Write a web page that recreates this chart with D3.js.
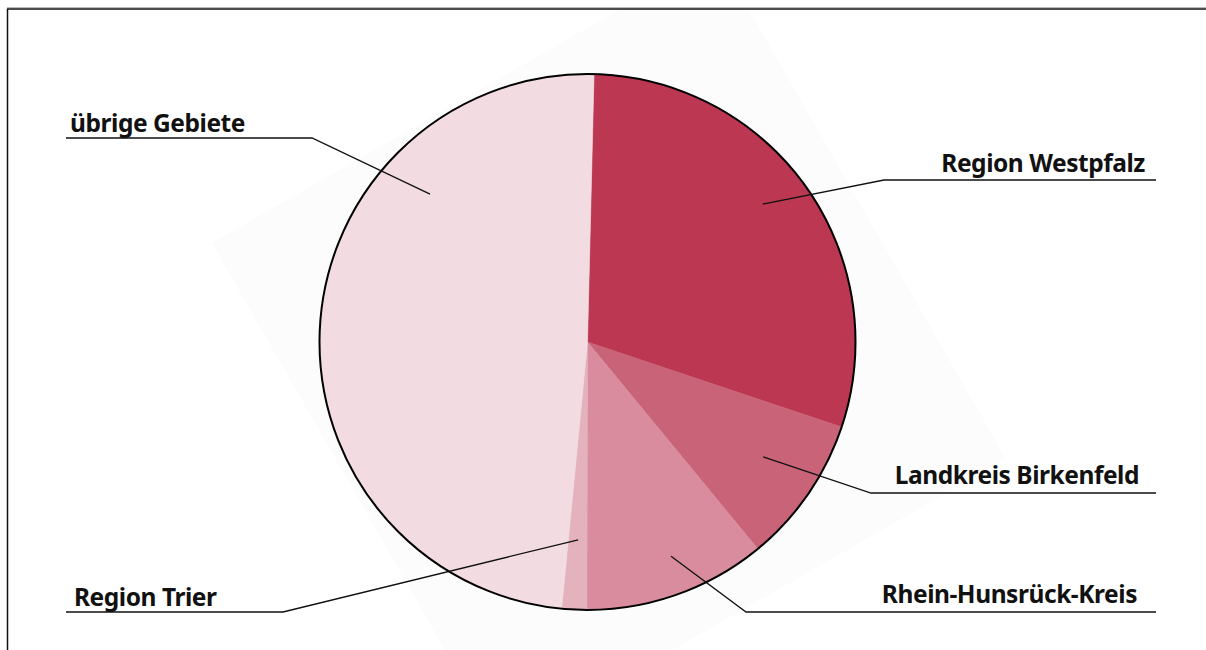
<!DOCTYPE html>
<html><head><meta charset="utf-8">
<script src="https://cdn.jsdelivr.net/npm/d3@7"></script>
<style>
html,body{margin:0;padding:0;background:#fff;}
svg{display:block;}
text{font-family:"Noto Sans",sans-serif;font-weight:bold;fill:#111;}
</style></head>
<body><svg id="c" width="1206" height="650"></svg>
<script>
// Data
const categories = ["Region Westpfalz","Landkreis Birkenfeld","Rhein-Hunsrück-Kreis","Region Trier","übrige Gebiete"];
const values = [29.75, 8.9, 11.0, 1.5, 48.85];
const colors = ["#bc3752","#c96377","#d98c9d","#e4b2bd","#f2dbe1"];

// Layout
const W = 1206, H = 650;
const cx = 587.5, cy = 342, R = 268;
const startDeg = 1.4;
const labelLayout = {
  "Region Westpfalz":     {ang:51.8,  r:223, elbow:[884,180], lineEnd:1156, side:"right", tx:1145, ty:172},
  "Landkreis Birkenfeld": {ang:123.2, r:210, elbow:[871,493], lineEnd:1156, side:"right", tx:1139, ty:484},
  "Rhein-Hunsrück-Kreis": {ang:158.7, r:230, elbow:[746,612], lineEnd:1156, side:"right", tx:1137, ty:603},
  "Region Trier":         {ang:182.7, r:198, elbow:[283,612], lineEnd:66,   side:"left",  tx:74,   ty:606},
  "übrige Gebiete":       {ang:313.2, r:216, elbow:[312,138], lineEnd:66,   side:"left",  tx:70,   ty:132}
};

const svg = d3.select("#c");

// faint background square
svg.append("rect")
  .attr("x",-291).attr("y",-291).attr("width",582).attr("height",582)
  .attr("transform","translate(609,351) rotate(-29.8)")
  .attr("fill","#fcfcfc");

// frame
svg.append("rect").attr("x",0).attr("y",0).attr("width",W).attr("height",7).attr("fill","#fff");
svg.append("line").attr("x1",7).attr("x2",W).attr("y1",7.5).attr("y2",7.5).attr("stroke","#bbb").attr("stroke-width",1);
svg.append("line").attr("x1",7).attr("x2",W).attr("y1",9).attr("y2",9).attr("stroke","#111").attr("stroke-width",1.5);
svg.append("line").attr("x1",7.5).attr("x2",7.5).attr("y1",9).attr("y2",H).attr("stroke","#111").attr("stroke-width",1.5);

const g = svg.append("g").attr("transform",`translate(${cx},${cy})`);
const toRad = d => d*Math.PI/180;
const pie = d3.pie().sort(null).value(d=>d.v)
  .startAngle(toRad(startDeg)).endAngle(toRad(startDeg+360));
const arcs = pie(categories.map((c,i)=>({c, v:values[i], col:colors[i]})));
const arc = d3.arc().innerRadius(0).outerRadius(R);

g.selectAll("path.s").data(arcs).join("path").attr("class","s")
  .attr("d",arc).attr("fill",d=>d.data.col)
  .attr("stroke",d=>d.data.col).attr("stroke-width",0.6);

g.append("circle").attr("r",R).attr("fill","none").attr("stroke","#000").attr("stroke-width",2);

// labels + leaders
categories.forEach(c=>{
  const L = labelLayout[c];
  const a = toRad(L.ang);
  const px = cx + L.r*Math.sin(a), py = cy - L.r*Math.cos(a);
  svg.append("polyline")
    .attr("points",[[px,py],L.elbow,[L.lineEnd,L.elbow[1]]].map(p=>p.join(",")).join(" "))
    .attr("fill","none").attr("stroke","#111").attr("stroke-width",1.3);
  svg.append("text").attr("x",L.tx).attr("y",L.ty)
    .attr("text-anchor",L.side==="right"?"end":"start")
    .attr("font-size",24.5).attr("letter-spacing",-0.45)
    .text(c);
});
</script></body></html>
